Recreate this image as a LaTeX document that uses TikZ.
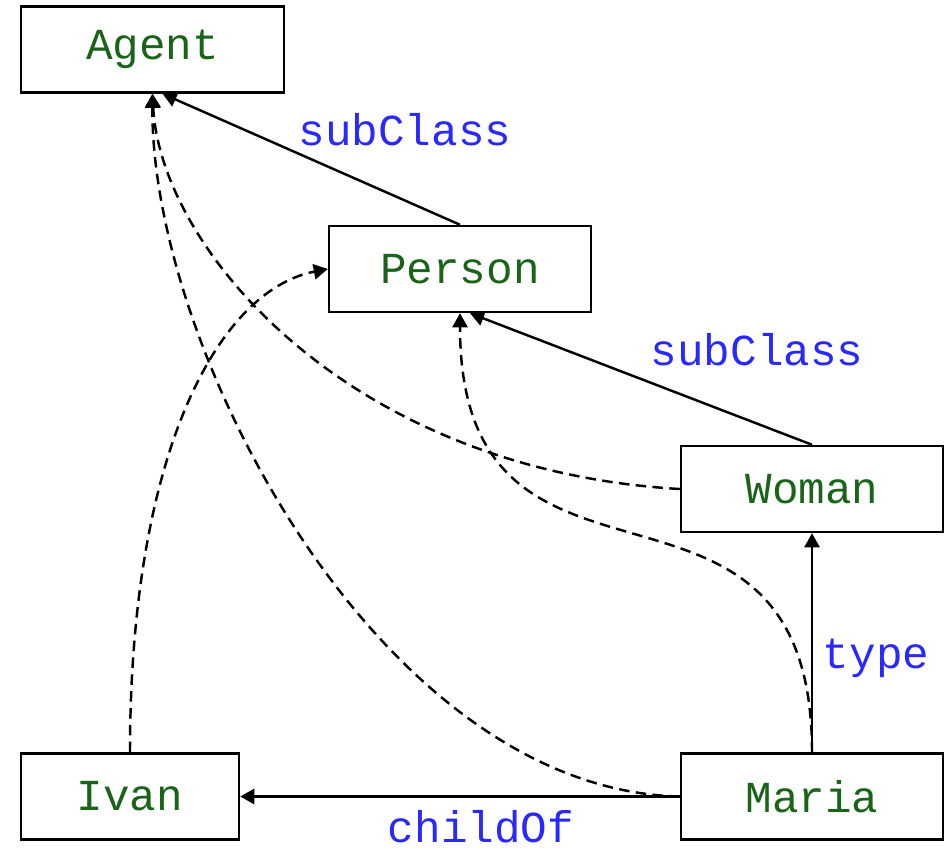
\documentclass[tikz,border=0pt]{standalone}
\usepackage{fontspec}
\setmonofont{Liberation Mono}
\usetikzlibrary{arrows.meta}

\definecolor{classgreen}{RGB}{25,100,25}
\definecolor{relblue}{RGB}{40,40,255}

\begin{document}
\begin{tikzpicture}[
    every node/.style={font=\ttfamily\fontsize{12.6}{14}\selectfont},
    cls/.style={draw, line width=0.7pt, text=classgreen, minimum height=0.86cm, inner sep=0pt},
    rel/.style={text=relblue},
    link/.style={line width=0.7pt, -{Triangle[length=4pt,width=4.3pt]}},
    infer/.style={link, dash pattern=on 3pt off 1.8pt}
  ]
  \useasboundingbox (0,0) rectangle (9.48,-8.49);

  % classes and individuals
  \node[cls, minimum width=2.63cm] (agent)  at (1.525,-0.495) {Agent};
  \node[cls, minimum width=2.62cm] (person) at (4.60,-2.69) {Person};
  \node[cls, minimum width=2.62cm] (woman)  at (8.12,-4.89) {Woman};
  \node[cls, minimum width=2.18cm] (ivan)   at (1.30,-7.965) {Ivan};
  \node[cls, minimum width=2.62cm] (maria)  at (8.12,-7.965) {Maria};

  % asserted links
  \draw[link] (person.north) -- ([xshift=0.1cm]agent.south);
  \draw[link] (woman.north) -- ([xshift=0.1cm]person.south);
  \draw[link] (maria.north) -- (woman.south);
  \draw[link] (maria.west) -- (ivan.east);

  \node[rel] (sub1)  at (4.05,-1.30) {subClass};
  \node[rel] (sub2)  at (7.57,-3.50) {subClass};
  \node[rel] (typ)   at (8.76,-6.58) {type};
  \node[rel] (child) at (4.81,-8.27) {childOf};

  % inferred links
  \draw[infer] (ivan.north) .. controls +(0,3.03) and +(-1.08,-0.21) .. (person.west);
  \draw[infer] (woman.west) .. controls +(-3.3,0.19) and +(0.08,-1.56) .. (agent.south);
  \draw[infer] (maria.west) .. controls +(-3.0,0.07) and +(-0.02,-2.56) .. (agent.south);
  \draw[infer] (maria.north) .. controls +(0,3.3) and +(0,-3.3) .. (person.south);
\end{tikzpicture}
\end{document}
